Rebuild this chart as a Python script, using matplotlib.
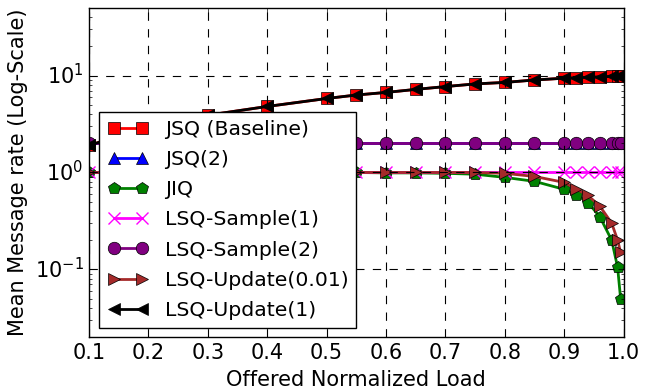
import matplotlib
matplotlib.use('Agg')
import matplotlib.pyplot as plt

plt.style.use('classic')
plt.rcParams['mathtext.fontset'] = 'dejavusans'
plt.rcParams['font.family'] = ['DejaVu Sans']

load = [0.1, 0.2, 0.3, 0.4, 0.5, 0.55, 0.6, 0.65, 0.7, 0.75, 0.8, 0.85,
        0.9, 0.92, 0.94, 0.96, 0.98, 0.99, 0.995]

jsq = [1.9, 3.0, 3.9, 4.8, 5.8, 6.3, 6.7, 7.2, 7.7, 8.2, 8.5, 9.0,
       9.4, 9.5, 9.6, 9.7, 9.8, 9.85, 9.9]
jsq2 = [2.0] * len(load)
jiq = [1.0, 1.0, 1.0, 1.0, 1.0, 1.0, 0.99, 0.99, 0.98, 0.96, 0.89, 0.81,
       0.67, 0.59, 0.49, 0.35, 0.2, 0.105, 0.05]
sample1 = [1.0] * len(load)
sample2 = [2.0] * len(load)
update001 = [1.0, 1.0, 1.0, 1.0, 1.0, 1.0, 1.0, 1.0, 1.0, 1.0, 0.98, 0.91,
             0.79, 0.68, 0.58, 0.45, 0.3, 0.2, 0.15]
update1 = jsq

fig = plt.figure(figsize=(6.55, 3.92), dpi=100, facecolor='white')
ax = fig.add_axes([0.136, 0.140, 0.816, 0.840])

ms = 9
ax.plot(load, jsq, color='red', marker='s', lw=2, ms=ms, label='JSQ (Baseline)')
ax.plot(load, jsq2, color='blue', marker='^', lw=2, ms=ms, label='JSQ(2)')
ax.plot(load, jiq, color='green', marker='p', lw=2, ms=ms, label='JIQ')
ax.plot(load, sample1, color='magenta', marker='x', lw=2, ms=ms, mew=1,
        label='LSQ-Sample(1)')
ax.plot(load, sample2, color='purple', marker='o', lw=2, ms=ms, label='LSQ-Sample(2)')
ax.plot(load, update001, color='brown', marker='>', lw=2, ms=ms,
        label='LSQ-Update(0.01)')
ax.plot(load, update1, color='black', marker='<', lw=2, ms=ms, label='LSQ-Update(1)')

ax.set_yscale('log')
ax.set_xlim(0.1, 1.0)
ax.set_ylim(0.02, 50)
ax.set_xticks([0.1, 0.2, 0.3, 0.4, 0.5, 0.6, 0.7, 0.8, 0.9, 1.0])
ax.grid(True, which='major', color='black', linestyle='--', linewidth=0.8)
ax.tick_params(labelsize=15)
ax.set_xlabel('Offered Normalized Load', fontsize=15)
ax.set_ylabel('Mean Message rate (Log-Scale)', fontsize=15)

ax.legend(loc='lower left', bbox_to_anchor=(0.019, 0.027), numpoints=2,
          fontsize=14.7, fancybox=False, framealpha=1, borderaxespad=0,
          labelspacing=0.55)

fig.savefig('out.png', dpi=100, facecolor='white')
